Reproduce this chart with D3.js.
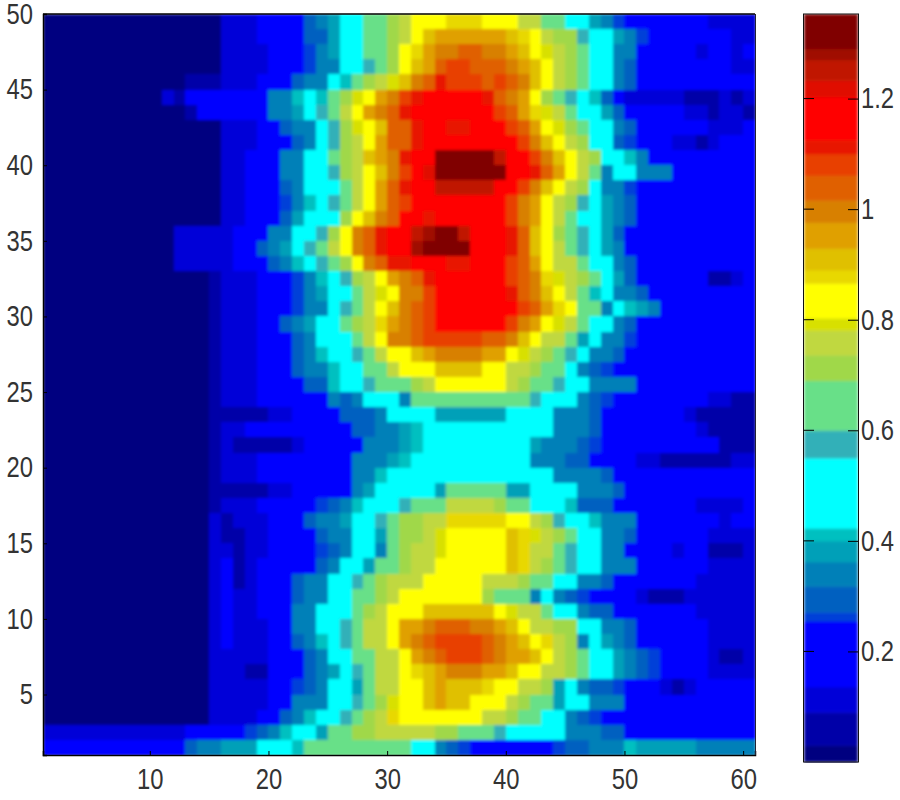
<!DOCTYPE html>
<html><head><meta charset="utf-8">
<style>html,body{margin:0;padding:0;background:#fff}svg{display:block}text{font-family:"Liberation Sans",Arial,sans-serif;fill:#333}</style>
<script src="https://cdn.jsdelivr.net/npm/d3@7/dist/d3.min.js"></script>
</head><body><div id="c"></div>
<script>
const xTicks=[10,20,30,40,50,60];
const yTicks=[5,10,15,20,25,30,35,40,45,50];
const barTicks=[0.2,0.4,0.6,0.8,1,1.2];
const barBreaks=[0.03,0.09,0.136,0.255,0.271,0.318,0.362,0.40,0.423,0.55,0.60,0.69,0.736,0.781,0.803,0.866,0.89,0.929,0.976,1.016,1.061,1.10,1.125,1.203,1.233,1.27,1.29];
const barColors=["#000080","#0000a8","#0000d8","#0000ff","#0040d8","#0060c0","#0080b8","#00a0b8","#00c0c0","#00ffff","#30b0b8","#68e088","#a0d848","#c0d840","#d8e000","#ffff00","#e8d800","#e0c000","#e0a000","#d88000","#e06000","#e84000","#e81800","#ff0000","#e00e00","#c01500","#a01000","#800000"];
// cell values x100, top row (y=49..50) first, columns x=1..60
const z=[
[2,2,2,2,2,2,2,2,2,2,2,2,2,2,2,12,12,13,14,19,19,19,30,34,39,48,48,62,66,73,76,84,84,84,88,88,88,84,84,82,78,76,64,62,48,48,38,34,27,19,19,19,19,19,19,19,12,11,11,12],
[2,2,2,2,2,2,2,2,2,2,2,2,2,2,2,12,12,13,14,19,19,19,29,30,38,48,48,62,66,73,78,84,91,95,95,95,96,96,96,91,88,84,76,72,70,57,48,48,38,34,27,19,19,19,19,19,18,16,13,12],
[2,2,2,2,2,2,2,2,2,2,2,2,2,2,2,12,12,11,9,14,19,19,26,34,38,48,48,60,66,72,84,88,95,98,100,104,104,100,98,96,92,84,80,74,72,60,48,48,36,32,19,19,19,19,19,10,16,17,12,14],
[2,2,2,2,2,2,2,2,2,2,2,2,2,2,2,12,12,11,9,14,19,19,27,32,36,48,48,58,66,72,84,91,97,104,108,108,106,105,103,100,95,90,84,76,72,60,48,48,36,30,19,19,19,19,19,17,17,16,9,11],
[2,2,2,2,2,2,2,2,2,2,2,2,6,7,8,12,12,13,16,19,19,28,34,36,48,40,66,72,76,80,92,100,106,110,108,108,108,106,108,102,98,90,84,76,72,60,48,48,36,30,19,19,19,19,19,16,16,16,14,14],
[2,2,2,2,2,2,2,2,2,2,9,8,14,14,14,14,15,16,19,33,34,42,48,40,62,72,80,86,95,100,108,112,116,116,116,116,116,110,105,100,94,84,70,62,57,48,40,30,15,13,13,13,13,11,8,7,8,9,8,9],
[2,2,2,2,2,2,2,2,2,2,2,2,8,14,14,14,15,16,19,32,34,38,48,57,64,76,84,96,98,104,110,116,116,116,116,116,116,116,108,104,95,88,80,76,68,48,48,38,30,19,19,18,16,14,12,9,8,9,9,8],
[2,2,2,2,2,2,2,2,2,2,2,2,2,2,2,11,12,13,14,19,29,34,36,48,57,72,80,84,91,104,106,112,116,116,112,112,116,116,116,108,104,94,84,80,72,66,48,48,36,30,19,19,19,18,16,14,13,12,13,14],
[2,2,2,2,2,2,2,2,2,2,2,2,2,2,2,11,12,13,14,19,19,29,34,48,57,72,78,84,94,104,106,110,116,118,116,116,116,116,116,116,108,100,92,84,76,70,48,48,28,26,19,18,16,12,9,8,12,16,16,16],
[2,2,2,2,2,2,2,2,2,2,2,2,2,2,2,11,12,14,19,19,32,34,48,48,60,70,78,90,95,100,110,116,118,132,132,132,132,132,125,116,116,108,100,92,84,76,70,48,48,40,34,19,19,19,19,18,18,18,18,18],
[2,2,2,2,2,2,2,2,2,2,2,2,2,2,2,11,12,14,19,19,33,36,48,48,58,70,76,84,92,100,108,116,122,132,132,132,132,132,132,116,116,110,104,95,84,78,68,36,48,48,36,34,34,19,19,19,18,18,18,18],
[2,2,2,2,2,2,2,2,2,2,2,2,2,2,2,11,12,14,19,19,30,36,48,48,50,64,76,84,94,103,110,116,116,124,125,125,125,125,116,116,108,100,92,84,76,70,48,36,34,27,19,19,19,19,19,19,18,18,18,18],
[2,2,2,2,2,2,2,2,2,2,2,2,2,2,2,11,12,14,19,19,27,34,40,48,57,68,78,84,94,102,108,116,116,118,116,116,116,116,116,108,100,96,84,76,72,57,48,38,34,29,19,19,17,17,19,19,18,18,18,18],
[2,2,2,2,2,2,2,2,2,2,2,2,2,2,2,11,12,14,19,19,30,38,48,48,52,72,84,90,100,104,116,116,112,115,116,116,116,116,116,108,100,94,84,74,66,48,48,38,34,29,19,19,19,19,19,19,18,18,18,18],
[2,2,2,2,2,2,2,2,2,2,2,9,11,11,12,13,14,16,19,33,36,44,48,57,70,84,100,105,110,116,116,125,128,132,130,125,116,116,116,112,105,92,84,72,66,57,48,38,30,19,19,19,18,19,19,19,19,18,18,18],
[2,2,2,2,2,2,2,2,2,2,2,9,11,11,12,13,14,16,30,36,38,48,57,66,76,84,100,106,110,116,116,128,132,132,130,130,116,116,116,110,105,92,84,76,66,57,48,38,34,19,19,19,19,19,17,19,18,18,18,18],
[2,2,2,2,2,2,2,2,2,2,2,9,11,11,12,13,14,16,19,30,34,40,48,57,66,72,84,98,104,110,112,116,116,116,110,110,116,116,116,108,104,96,84,78,76,66,48,48,36,30,19,19,19,18,17,16,16,15,15,16],
[2,2,2,2,2,2,2,2,2,2,2,2,2,2,6,11,11,12,14,19,19,26,36,40,48,57,70,76,84,95,100,106,110,116,116,116,116,116,116,108,104,100,88,80,78,70,60,48,38,30,19,19,19,19,15,14,7,7,13,14],
[2,2,2,2,2,2,2,2,2,2,2,2,2,2,6,11,11,12,14,19,19,26,34,38,48,48,66,74,80,84,98,100,108,116,116,116,116,116,116,112,106,100,92,84,78,66,40,48,36,34,28,19,19,18,16,15,15,15,15,15],
[2,2,2,2,2,2,2,2,2,2,2,2,2,2,6,11,11,12,14,19,19,27,33,36,48,57,68,74,84,90,98,103,108,116,116,116,116,116,116,114,108,104,96,88,84,66,62,36,48,40,38,36,19,19,19,19,16,15,15,15],
[2,2,2,2,2,2,2,2,2,2,2,2,2,2,6,11,11,12,14,19,30,34,38,48,48,60,72,78,88,95,100,106,108,116,116,116,116,113,113,108,100,96,84,80,76,68,48,48,36,30,19,19,19,19,19,18,16,15,15,15],
[2,2,2,2,2,2,2,2,2,2,2,2,2,2,6,11,11,12,14,19,19,29,36,48,48,52,66,74,84,100,100,104,108,108,108,108,108,105,105,100,92,84,78,76,62,38,48,36,34,27,19,19,19,18,18,16,16,15,15,15],
[2,2,2,2,2,2,2,2,2,2,2,2,2,2,6,11,11,12,14,19,19,30,36,40,48,48,57,68,76,84,84,92,95,100,100,100,100,96,96,84,80,76,70,62,57,48,36,36,29,19,19,19,19,18,18,16,16,15,15,15],
[2,2,2,2,2,2,2,2,2,2,2,2,2,2,6,11,11,12,14,19,19,30,32,36,40,48,48,62,68,74,84,84,84,91,91,91,91,84,84,78,74,70,66,62,48,36,30,27,22,19,19,19,19,18,18,17,17,15,15,15],
[2,2,2,2,2,2,2,2,2,2,2,2,2,2,6,11,11,12,14,19,19,19,28,30,40,48,48,57,60,64,68,70,76,84,84,84,84,84,84,76,72,68,62,57,48,48,36,36,36,36,19,19,19,18,17,16,16,15,15,15],
[2,2,2,2,2,2,2,2,2,2,2,2,2,2,6,11,11,12,14,19,19,19,19,19,33,30,34,48,48,48,36,62,64,66,66,66,66,66,66,62,60,56,48,48,48,33,30,26,19,19,19,19,18,17,16,15,13,12,8,8],
[2,2,2,2,2,2,2,2,2,2,2,2,2,2,6,8,8,8,8,9,12,19,19,19,19,28,30,30,36,48,48,48,48,38,38,38,38,38,38,48,48,48,48,36,36,33,30,19,19,19,18,17,15,15,13,8,7,7,7,6],
[2,2,2,2,2,2,2,2,2,2,2,2,2,2,6,13,13,14,15,16,19,19,19,19,19,19,30,30,33,36,38,40,48,48,48,48,48,48,48,48,48,48,48,34,33,32,30,19,19,19,18,18,17,16,15,13,8,7,7,6],
[2,2,2,2,2,2,2,2,2,2,2,2,2,2,6,9,6,6,7,8,8,11,19,19,19,19,19,32,34,36,38,40,48,48,48,48,48,48,48,48,48,38,36,34,33,30,26,19,19,19,18,17,17,16,16,15,15,8,8,6],
[2,2,2,2,2,2,2,2,2,2,2,2,2,2,6,11,12,13,14,15,16,19,19,19,19,19,34,36,36,38,42,48,48,48,48,48,48,48,48,48,48,36,33,32,30,28,22,19,19,19,13,12,8,8,8,8,8,8,9,10],
[2,2,2,2,2,2,2,2,2,2,2,2,2,2,6,11,12,13,14,15,16,19,19,19,19,19,36,36,40,48,48,48,48,48,48,48,48,48,48,48,48,48,48,36,34,34,33,30,19,19,19,19,19,17,17,15,15,15,15,16],
[2,2,2,2,2,2,2,2,2,2,2,2,2,2,6,8,8,7,7,9,12,19,19,19,19,19,36,38,48,48,48,48,48,38,66,68,66,66,64,38,38,48,48,48,48,36,34,32,30,19,19,19,19,19,19,21,19,19,18,17],
[2,2,2,2,2,2,2,2,2,2,2,2,2,2,6,11,12,13,14,16,19,19,19,27,30,34,41,48,48,48,57,66,68,68,76,78,76,74,72,66,62,52,48,48,41,30,29,28,22,19,19,19,19,19,19,12,10,10,12,14],
[2,2,2,2,2,2,2,2,2,2,2,2,2,2,9,8,10,10,13,16,19,19,30,34,36,38,48,48,57,66,70,72,76,78,88,88,88,88,88,86,84,76,70,57,48,48,40,36,34,33,19,19,19,19,19,15,14,13,14,15],
[2,2,2,2,2,2,2,2,2,2,2,2,2,2,9,6,8,10,12,14,19,19,19,29,32,34,48,48,38,66,70,72,76,80,84,84,84,84,84,91,88,80,76,72,60,48,48,36,33,30,19,19,19,19,17,14,10,10,12,12],
[2,2,2,2,2,2,2,2,2,2,2,2,2,2,9,9,7,9,12,15,19,19,19,27,29,33,48,48,36,66,70,74,76,80,84,84,84,84,84,90,88,78,74,68,57,48,48,34,32,20,19,19,19,10,14,14,8,8,8,12],
[2,2,2,2,2,2,2,2,2,2,2,2,2,2,9,14,8,9,14,16,19,19,19,28,34,48,48,38,62,66,72,74,78,84,84,84,84,84,84,90,88,76,72,68,57,48,48,36,34,33,19,19,19,19,17,15,10,10,10,12],
[2,2,2,2,2,2,2,2,2,2,2,2,2,2,9,14,8,10,14,17,19,30,34,36,48,48,57,66,70,74,76,78,84,84,84,84,84,76,74,74,70,68,60,48,48,34,33,30,19,19,19,19,19,17,16,13,11,10,10,12],
[2,2,2,2,2,2,2,2,2,2,2,2,2,2,9,14,11,12,14,17,19,30,34,36,48,48,60,68,72,76,84,84,84,84,84,84,84,72,68,66,62,36,48,34,30,27,19,19,14,14,9,8,8,8,13,13,10,10,10,12],
[2,2,2,2,2,2,2,2,2,2,2,2,2,2,9,14,11,12,14,17,19,33,34,48,48,52,66,72,78,84,84,84,90,91,91,91,91,91,84,80,78,74,62,48,48,36,30,28,19,19,19,19,19,17,16,13,10,10,10,12],
[2,2,2,2,2,2,2,2,2,2,2,2,2,2,9,14,11,11,13,16,19,33,36,48,48,57,68,74,78,84,96,96,100,103,104,103,100,100,96,92,84,78,74,72,70,48,48,36,34,30,19,19,19,19,17,15,12,10,9,11],
[2,2,2,2,2,2,2,2,2,2,2,2,2,2,9,14,11,11,12,15,19,30,34,40,48,57,68,74,78,84,96,100,104,108,108,108,108,104,100,96,90,84,88,74,72,36,48,38,34,30,19,19,19,19,17,15,11,9,9,11],
[2,2,2,2,2,2,2,2,2,2,2,2,2,2,9,12,10,9,10,14,19,19,30,34,48,48,62,68,74,76,84,94,100,104,108,108,108,104,100,97,94,90,84,76,72,66,48,48,38,34,30,26,19,19,18,15,10,8,8,10],
[2,2,2,2,2,2,2,2,2,2,2,2,2,2,9,12,9,7,8,14,19,19,30,34,38,48,57,68,74,78,84,88,91,96,100,100,100,96,94,92,84,84,76,74,70,62,48,48,38,33,30,27,19,19,18,15,11,9,9,11],
[2,2,2,2,2,2,2,2,2,2,2,2,2,2,9,11,11,11,12,15,19,26,30,36,48,48,38,66,74,78,84,84,91,95,92,92,92,88,84,84,78,74,70,38,48,34,30,28,26,19,19,19,10,8,10,14,14,14,14,14],
[2,2,2,2,2,2,2,2,2,2,2,2,2,2,9,10,10,11,13,16,19,33,34,36,48,48,57,68,72,80,84,84,92,95,92,92,84,84,84,76,72,66,62,38,48,48,34,33,33,19,19,19,19,19,17,15,15,15,15,15],
[2,2,2,2,2,2,2,2,2,2,2,2,2,2,9,10,10,12,14,18,30,33,40,48,48,57,66,70,76,88,84,84,84,84,84,84,84,78,76,70,68,60,48,48,33,30,27,19,19,19,18,17,17,16,16,15,15,15,14,14],
[11,11,11,11,11,11,11,11,11,11,11,11,14,14,14,14,14,26,29,34,40,48,48,38,60,66,70,72,74,74,76,76,76,72,72,68,62,60,58,48,48,48,48,48,36,34,33,30,28,19,19,19,19,19,19,19,17,17,16,16],
[19,19,19,19,19,19,19,19,19,19,19,19,30,34,34,38,38,38,48,48,48,40,62,66,66,66,66,66,66,62,60,48,48,36,30,26,19,19,19,19,19,19,19,26,28,29,34,34,34,41,38,38,38,38,38,36,36,34,33,33]
];

const svg=d3.select("#c").append("svg").attr("width",900).attr("height",800);
const defs=svg.append("defs");
defs.append("filter").attr("id","soft").attr("x","0").attr("y","0").attr("width","1").attr("height","1")
  .append("feGaussianBlur").attr("stdDeviation",1.5);
const x=d3.scaleLinear().domain([1,61]).range([43,755]);
const y=d3.scaleLinear().domain([1,50]).range([755,14]);
const color=d3.scaleThreshold().domain(barBreaks).range(barColors);
const cells=z.flatMap((row,i)=>row.map((v,j)=>({xv:j+1,yv:49-i,v:v/100})));
svg.append("g").attr("filter","url(#soft)").selectAll("rect").data(cells).join("rect")
  .attr("x",d=>x(d.xv)).attr("y",d=>y(d.yv+1))
  .attr("width",d=>x(d.xv+1)-x(d.xv)+0.5).attr("height",d=>y(d.yv)-y(d.yv+1)+0.5)
  .attr("fill",d=>color(d.v)).attr("shape-rendering","crispEdges");
const fs=29;
const ax=svg.append("g").call(d3.axisBottom(x).tickValues(xTicks).tickSize(-4).tickPadding(13).tickFormat(d3.format("d"))).attr("transform","translate(0,755)");
const ay=svg.append("g").call(d3.axisLeft(y).tickValues(yTicks).tickSize(-4).tickPadding(10).tickFormat(d3.format("d"))).attr("transform","translate(43,0)");
[ax,ay].forEach(g=>{g.selectAll("text").attr("font-size",fs).attr("fill","#333");g.selectAll(".domain").attr("stroke","#000").attr("stroke-width",1.5);g.selectAll("line").attr("stroke","#000");});
svg.append("line").attr("x1",43).attr("x2",755).attr("y1",14).attr("y2",14).attr("stroke","#000").attr("stroke-width",1.5);
svg.append("line").attr("x1",755.5).attr("x2",755.5).attr("y1",14).attr("y2",755).attr("stroke","#223").attr("stroke-width",1);
// colour bar
const by=d3.scaleLinear().domain([0,1.353]).range([762,14]);
const edges=[0,...barBreaks,1.353];
svg.append("g").attr("filter","url(#soft)").selectAll("rect").data(barColors).join("rect")
  .attr("x",804).attr("width",54).attr("y",(d,i)=>by(edges[i+1])).attr("height",(d,i)=>by(edges[i])-by(edges[i+1])+0.5)
  .attr("fill",d=>d);
const bar=svg.append("g");
bar.append("rect").attr("x",803.5).attr("y",14).attr("width",55).attr("height",748).attr("fill","none").attr("stroke","#111").attr("stroke-width",1);
const barAxis=bar.append("g").attr("transform","translate(858,0)").call(d3.axisRight(by).tickValues(barTicks).tickSize(-10).tickFormat(d=>String(d)));
barAxis.select(".domain").remove();
barAxis.selectAll("text").attr("font-size",fs).attr("fill","#333").attr("x",3);
barAxis.selectAll("line").attr("stroke","#000");
bar.selectAll(".ltick").data(barTicks).join("line").attr("class","ltick").attr("x1",804).attr("x2",814).attr("y1",d=>by(d)).attr("y2",d=>by(d)).attr("stroke","#000");
// the reference's digits are tall and narrow: condense each label horizontally
svg.selectAll("g.tick text").each(function(){
  const w=this.getComputedTextLength();
  d3.select(this).attr("textLength",w*0.82).attr("lengthAdjust","spacingAndGlyphs");
});
</script></body></html>
